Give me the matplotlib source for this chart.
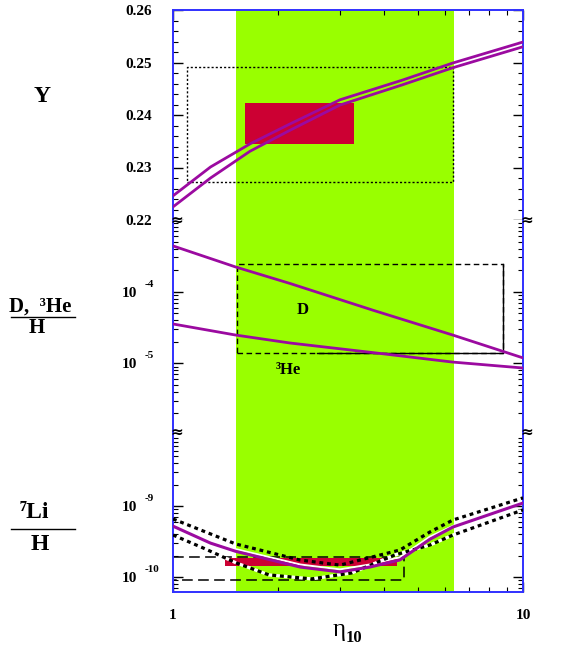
import numpy as np
import matplotlib
matplotlib.use("Agg")
import matplotlib.pyplot as plt
from matplotlib.ticker import LogLocator, NullFormatter, MultipleLocator

SERIF = ["Liberation Serif", "DejaVu Serif"]
PURPLE = "#9b0aa0"
RED = "#cc0033"
GREEN = "#99ff00"
BLUE = "#3030ff"

# baryon-to-photon ratio band (eta_10)
band = [1.51, 6.35]

# helium-4 mass fraction
eta_y = [1.0, 1.28, 1.66, 2.16, 3.0, 4.5, 6.3, 10.0]
y_upper = [0.2246, 0.2301, 0.2345, 0.2383, 0.2429, 0.2466, 0.2499, 0.2539]
y_lower = [0.2225, 0.2280, 0.2331, 0.2371, 0.2419, 0.2457, 0.2490, 0.2530]
y_obs_box = [1.61, 3.29, 0.2345, 0.2423]      # eta lo, eta hi, Y lo, Y hi
y_wide_box = [1.096, 6.31, 0.2272, 0.2491]

# deuterium and helium-3
eta_d = [1.0, 1.51, 2.16, 3.73, 6.3, 10.0]
d_h = [4.35e-4, 2.21e-4, 1.30e-4, 5.5e-5, 2.48e-5, 1.19e-5]
he3_h = [3.54e-5, 2.48e-5, 1.92e-5, 1.41e-5, 1.04e-5, 8.6e-6]
d_box = [1.52, 8.77, 1.39e-5, 2.44e-4]
he3_floor_from = 2.58

# lithium-7
eta_li = [1.0, 1.28, 1.51, 2.31, 3.0, 3.65, 4.45, 5.42, 6.31, 10.0]
li_mid = [5.2e-10, 3.0e-10, 2.3e-10, 1.38e-10, 1.18e-10, 1.38e-10, 1.74e-10, 3.4e-10, 5.06e-10, 1.1e-9]
eta_li_up = [1.0, 1.51, 2.31, 3.0, 4.45, 5.42, 6.31, 10.0]
li_up = [6.56e-10, 2.92e-10, 1.73e-10, 1.47e-10, 2.4e-10, 4.3e-10, 6.35e-10, 1.3e-9]
eta_li_lo = [1.0, 1.22, 1.52, 1.88, 2.49, 3.24, 4.3, 5.42, 6.31, 10.0]
li_lo = [3.9e-10, 2.56e-10, 1.57e-10, 1.07e-10, 9.4e-11, 1.14e-10, 2.04e-10, 2.82e-10, 3.9e-10, 8.8e-10]
eta_li_w = [1.4, 2.31, 3.0, 3.65, 4.45, 5.42, 6.5]
li_white = [2.7e-10, 1.5e-10, 1.28e-10, 1.5e-10, 1.9e-10, 3.7e-10, 5.6e-10]
li_obs_box = [1.41, 4.37, 1.43e-10, 1.85e-10]
li_dash_box = [0.9, 4.57, 9.08e-11, 1.91e-10]

W, H = 575, 659
fig = plt.figure(figsize=(W / 100, H / 100), dpi=100)
L, R = 173 / W, 350 / W
ax1 = fig.add_axes([L, 1 - 220 / H, R, 210 / H])
ax2 = fig.add_axes([L, 1 - 432 / H, R, 212 / H])
ax3 = fig.add_axes([L, 1 - 592 / H, R, 160 / H])

for ax in (ax1, ax2, ax3):
    ax.set_xscale("log")
    ax.set_xlim(1, 10)
    ax.axvspan(band[0], band[1], color=GREEN, zorder=0, lw=0)
    for s in ax.spines.values():
        s.set_color(BLUE)
        s.set_linewidth(1.4)
    ax.xaxis.set_minor_locator(LogLocator(base=10, subs=np.arange(2, 10)))
    ax.xaxis.set_minor_formatter(NullFormatter())
    ax.tick_params(axis="both", which="both", direction="in", color="black",
                   left=True, right=True, top=False, bottom=False,
                   labelbottom=False, labelleft=True)
    ax.tick_params(which="major", length=7, width=1)
    ax.tick_params(which="minor", length=3.5, width=0.8)

ax1.spines["bottom"].set_visible(False)
ax2.spines["top"].set_visible(False)
ax2.spines["bottom"].set_visible(False)
ax3.spines["top"].set_visible(False)
ax1.tick_params(axis="x", which="both", top=True)
ax3.tick_params(axis="x", which="both", bottom=True, labelbottom=True, pad=12)
ax1.set_xticks([1, 10], [])
ax2.set_xticks([1, 10], [])
ax3.set_xticks([1, 10], ["1", "10"])
for lab in ax3.get_xticklabels():
    lab.set_fontfamily(SERIF)
    lab.set_fontweight("bold")
    lab.set_fontsize(11)

# --- Y panel ---
ax1.set_ylim(0.22, 0.26)
ax1.yaxis.set_minor_locator(MultipleLocator(0.002))
ax1.set_yticks([0.22, 0.23, 0.24, 0.25, 0.26], ["0.22", "0.23", "0.24", "0.25", "0.26"])
ax1.tick_params(axis="y", which="major", pad=15)
for lab in ax1.get_yticklabels():
    lab.set_fontfamily(SERIF)
    lab.set_fontweight("bold")
    lab.set_fontsize(11)
ax1.add_patch(plt.Rectangle((y_obs_box[0], y_obs_box[2]), y_obs_box[1] - y_obs_box[0],
                            y_obs_box[3] - y_obs_box[2], color=RED, lw=0, zorder=1))
bx = [y_wide_box[0], y_wide_box[1], y_wide_box[1], y_wide_box[0], y_wide_box[0]]
by = [y_wide_box[2], y_wide_box[2], y_wide_box[3], y_wide_box[3], y_wide_box[2]]
ax1.plot(bx, by, color="black", lw=1.0, ls=(0, (1.5, 1.5)), zorder=2)
ax1.plot(eta_y, y_upper, color=PURPLE, lw=2.0, zorder=3)
ax1.plot(eta_y, y_lower, color=PURPLE, lw=2.0, zorder=3)

# --- D, 3He panel ---
ax2.set_yscale("log")
ax2.set_ylim(1.1e-6, 1.0e-3)
ax2.set_yticks([1e-5, 1e-4], ["10", "10"])
ax2.yaxis.set_minor_locator(LogLocator(base=10, subs=np.arange(2, 10)))
ax2.yaxis.set_minor_formatter(NullFormatter())
bx = [d_box[0], d_box[1], d_box[1], d_box[0], d_box[0]]
by = [d_box[2], d_box[2], d_box[3], d_box[3], d_box[2]]
ax2.plot(bx, by, color="black", lw=1.0, ls=(0, (4, 2.5)), zorder=2)
ax2.plot([he3_floor_from, d_box[1], d_box[1]], [d_box[2], d_box[2], d_box[3]],
         color="black", lw=1.0, zorder=2)
ax2.plot(eta_d, d_h, color=PURPLE, lw=2.0, zorder=3)
ax2.plot(eta_d, he3_h, color=PURPLE, lw=2.0, zorder=3)
ax2.text(2.34, 5.6e-5, "D", family=SERIF, weight="bold", fontsize=12, ha="center", va="center")
ax2.text(2.14, 8.1e-6, "³He", family=SERIF, weight="bold", fontsize=12, ha="center", va="center")

# --- Li panel ---
ax3.set_yscale("log")
ax3.set_ylim(6.15e-11, 1.1e-8)
ax3.set_yticks([1e-10, 1e-9], ["10", "10"])
ax3.yaxis.set_minor_locator(LogLocator(base=10, subs=np.arange(2, 10)))
ax3.yaxis.set_minor_formatter(NullFormatter())
ax3.add_patch(plt.Rectangle((li_obs_box[0], li_obs_box[2]), li_obs_box[1] - li_obs_box[0],
                            li_obs_box[3] - li_obs_box[2], color=RED, lw=0, zorder=1))
ax3.plot([li_dash_box[0], li_dash_box[1], li_dash_box[1], li_dash_box[0]],
         [li_dash_box[3], li_dash_box[3], li_dash_box[2], li_dash_box[2]],
         color="black", lw=1.1, ls=(0, (7, 3.5)), zorder=2)
ax3.plot(eta_li_w, li_white, color="white", lw=1.4, zorder=3)
ax3.plot(eta_li_up, li_up, color="black", lw=2.3, ls=(0, (1.2, 1.2)), zorder=4)
ax3.plot(eta_li_lo, li_lo, color="black", lw=2.3, ls=(0, (1.2, 1.2)),
         gapcolor="white", zorder=4)
ax3.plot(eta_li, li_mid, color=PURPLE, lw=2.2, zorder=5)

for ax, exps in ((ax2, {1e-5: "-5", 1e-4: "-4"}), (ax3, {1e-10: "-10", 1e-9: "-9"})):
    ax.tick_params(axis="y", which="major", pad=26)
    for lab in ax.get_yticklabels():
        lab.set_fontfamily(SERIF)
        lab.set_fontweight("bold")
        lab.set_fontsize(11)
    for val, txt in exps.items():
        ax.annotate(txt, xy=(0, val), xycoords=("axes fraction", "data"),
                    xytext=(-28, 3), textcoords="offset pixels", ha="left", va="bottom",
                    family=SERIF, weight="bold", fontsize=8)

# axis break marks, drawn at figure level so the panels do not hide them
for ax in (ax1, ax2):
    for xf in (0, 1):
        fig.text(xf + 0.01, 0, "≈", transform=ax.transAxes, ha="center", va="center",
                 fontsize=11, weight="bold", family="DejaVu Sans", zorder=10)

# left-hand labels
fig.text(42 / W, 1 - 97 / H, "Y", family=SERIF, weight="bold", fontsize=17, ha="center", va="center")
fig.text(40 / W, 1 - 307 / H, "D,  ³He", family=SERIF, weight="bold", fontsize=15, ha="center", va="center")
fig.text(37 / W, 1 - 328 / H, "H", family=SERIF, weight="bold", fontsize=15, ha="center", va="center")
fig.add_artist(plt.Line2D([11 / W, 75 / W], [1 - 317 / H, 1 - 317 / H], color="black", lw=1))
fig.text(34 / W, 1 - 513 / H, "⁷Li", family=SERIF, weight="bold", fontsize=17, ha="center", va="center")
fig.text(40 / W, 1 - 545 / H, "H", family=SERIF, weight="bold", fontsize=17, ha="center", va="center")
fig.add_artist(plt.Line2D([11 / W, 75 / W], [1 - 529 / H, 1 - 529 / H], color="black", lw=1))

# x label
fig.text(339 / W, 1 - 630 / H, "η", family=SERIF, fontsize=18, ha="center", va="center")
fig.text(354 / W, 1 - 638 / H, "10", family=SERIF, weight="bold", fontsize=12, ha="center", va="center")

fig.savefig("out.png", dpi=100)
